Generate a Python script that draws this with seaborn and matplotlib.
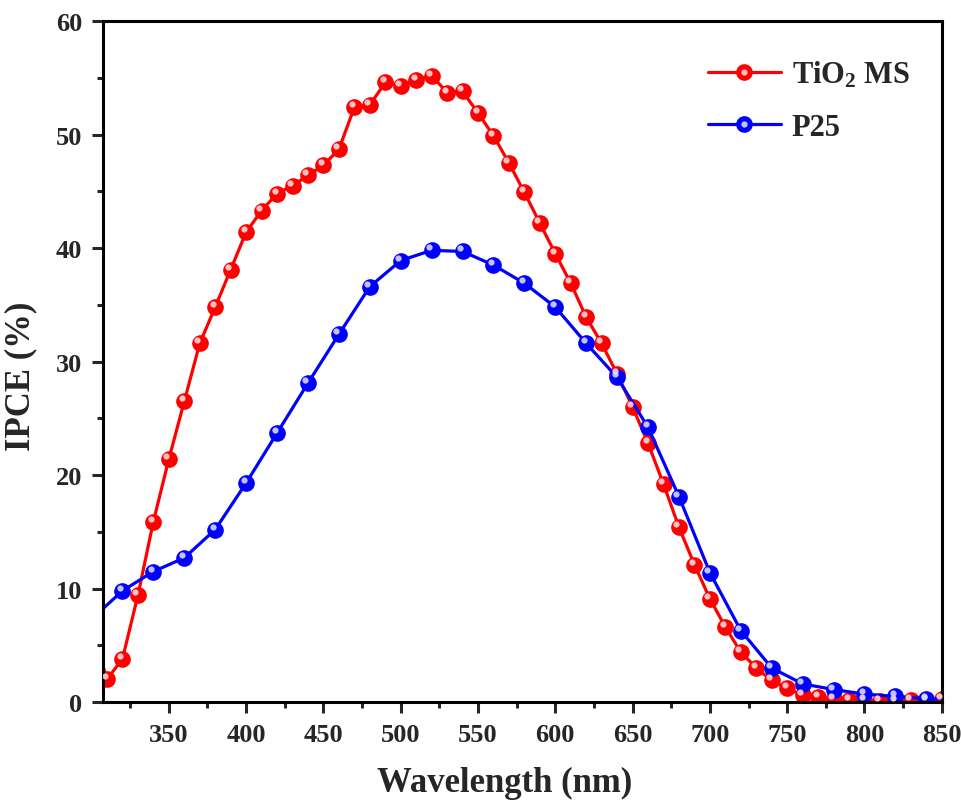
import numpy as np
import pandas as pd
import matplotlib
matplotlib.use("Agg")
import matplotlib.pyplot as plt
import matplotlib.transforms as mtransforms
from matplotlib.legend_handler import HandlerTuple
import seaborn as sns

# ---- data ----
wl_ms = list(range(300, 860, 10))
ipce_ms = [6.5, 2.0, 3.8, 9.4, 15.9, 21.4, 26.5, 31.6, 34.8, 38.1,
           41.4, 43.3, 44.8, 45.5, 46.4, 47.3, 48.7, 52.4, 52.6, 54.6,
           54.3, 54.8, 55.2, 53.7, 53.8, 51.9, 49.9, 47.5, 44.9, 42.2,
           39.5, 36.9, 33.9, 31.6, 28.9, 26.0, 22.8, 19.2, 15.4, 12.1,
           9.1, 6.6, 4.4, 3.0, 1.9, 1.2, 0.6, 0.4, 0.3, 0.2,
           0.15, 0.1, 0.1, 0.2, 0.2, 0.3]
wl_p25 = list(range(300, 880, 20))
ipce_p25 = [7.3, 9.8, 11.5, 12.7, 15.2, 19.3, 23.7, 28.1, 32.4, 36.6,
            38.9, 39.8, 39.7, 38.5, 36.9, 34.8, 31.6, 28.6, 24.2, 18.1,
            11.4, 6.3, 3.0, 1.6, 1.1, 0.7, 0.5, 0.3, 0.25]
labels = ["TiO$_\\mathregular{2}$ MS", "P25"]
colors = ["#ff0000", "#0000ff"]
highlights = ["#ffd8d8", "#d8d8ff"]
x_ticks = [350, 400, 450, 500, 550, 600, 650, 700, 750, 800, 850]
y_ticks = [0, 10, 20, 30, 40, 50, 60]

df = pd.concat([
    pd.DataFrame({"wl": wl_ms, "ipce": ipce_ms, "sample": labels[0]}),
    pd.DataFrame({"wl": wl_p25, "ipce": ipce_p25, "sample": labels[1]}),
])

sns.set_style("ticks")
plt.rcParams["font.family"] = ["Liberation Serif", "DejaVu Serif"]
plt.rcParams["font.weight"] = "bold"
plt.rcParams["mathtext.fontset"] = "custom"
plt.rcParams["mathtext.rm"] = "Liberation Serif:bold"
plt.rcParams["mathtext.it"] = "Liberation Serif:bold"
plt.rcParams["mathtext.bf"] = "Liberation Serif:bold"

fig = plt.figure(figsize=(9.61, 8.03), dpi=100)
ax = fig.add_axes([0.107, 0.1245, 0.873, 0.848])

sns.lineplot(data=df, x="wl", y="ipce", hue="sample", palette=colors,
             marker="o", markersize=12, markeredgewidth=0, linewidth=2.3,
             ax=ax, legend=False)

# specular highlights on the balls
off = mtransforms.offset_copy(ax.transData, fig=fig, x=-2.5, y=3, units="dots")
hl = []
for (x, y, c) in [(wl_ms, ipce_ms, highlights[0]), (wl_p25, ipce_p25, highlights[1])]:
    h, = ax.plot(x, y, linestyle="none", marker="o", markersize=4.5,
                 color=c, markeredgewidth=0, transform=off, zorder=5, alpha=0.9)
    hl.append(h)

ax.set_xlim(307.3, 850)
ax.set_ylim(0, 60)
ax.set_xticks(x_ticks)
ax.set_yticks(y_ticks)
ax.set_xticks(np.arange(325, 850, 50), minor=True)
ax.set_yticks(np.arange(5, 60, 10), minor=True)

for s in ax.spines.values():
    s.set_linewidth(2.2)
    s.set_color("black")
ax.tick_params(which="major", length=8, width=2.2, labelsize=19, pad=7, direction="out")
ax.tick_params(which="minor", length=4.5, width=2.2, direction="out")
for lab in ax.get_xticklabels() + ax.get_yticklabels():
    lab.set_fontweight("bold")

ax.set_xlabel("Wavelength (nm)", fontsize=25, fontweight="bold")
ax.set_ylabel("IPCE (%)", fontsize=25, fontweight="bold")
ax.xaxis.set_label_coords(0.479, -0.094)
ax.yaxis.set_label_coords(-0.078, 0.48)

lines = [l for l in ax.get_lines()[:2]]
handles = [(lines[0], hl[0]), (lines[1], hl[1])]
leg = ax.legend(handles, labels, loc="upper right", frameon=False,
                handler_map={tuple: HandlerTuple(ndivide=1, pad=0)},
                prop={"family": "Liberation Serif", "weight": "bold", "size": 22},
                handlelength=2.4, handletextpad=0.35, labelspacing=0.78,
                bbox_to_anchor=(0.995, 0.985), borderaxespad=0.5)

fig.savefig("out.png", dpi=100, facecolor="white")
